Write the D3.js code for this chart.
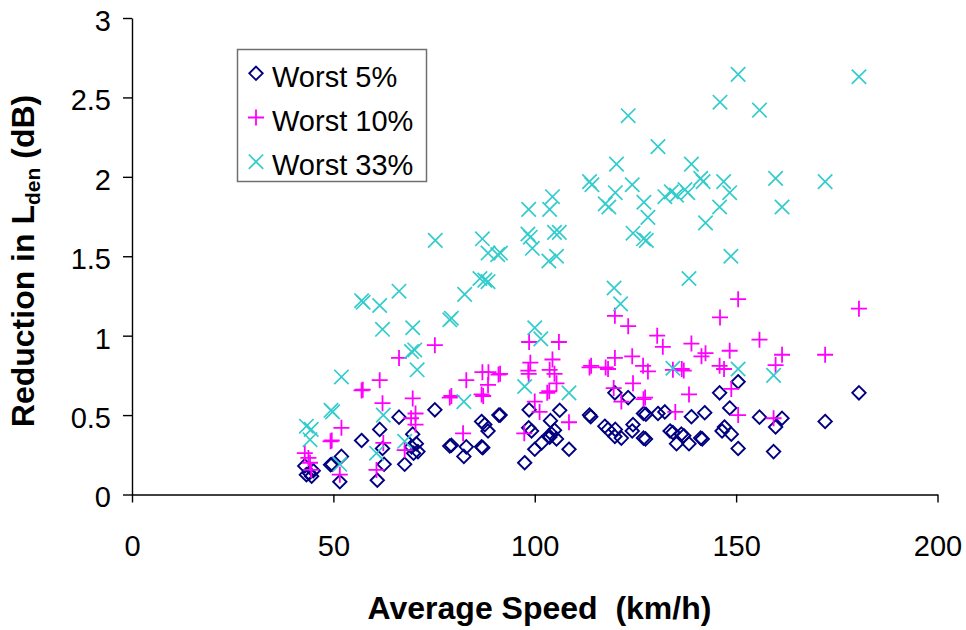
<!DOCTYPE html>
<html>
<head>
<meta charset="utf-8">
<script src="https://cdn.jsdelivr.net/npm/d3@7"></script>
<style>
  html, body { margin: 0; padding: 0; background: #fff; }
  svg { display: block; font-family: "Liberation Sans", Arial, sans-serif; }
</style>
</head>
<body>
<svg id="chart" width="966" height="630"></svg>
<script>
// Reduction in Lden against average speed, three worst-percentile groups.
// Each point is [average speed (km/h), reduction (dB)].
const worst5 = [
  [42.9,0.18],[43.3,0.125],[44.6,0.115],[44.0,0.135],[45.0,0.15],
  [49.3,0.187],[49.7,0.19],[51.6,0.08],[52.0,0.24],[57.0,0.34],
  [60.9,0.09],[61.5,0.41],[62.2,0.29],[62.6,0.19],[66.3,0.487],
  [67.7,0.19],[69.7,0.38],[69.4,0.30],[70.6,0.32],[71.0,0.27],[69.9,0.26],
  [75.2,0.533],[78.9,0.305],[79.3,0.31],[83.0,0.30],[82.4,0.24],
  [86.8,0.46],[87.6,0.44],[88.4,0.40],[86.8,0.30],[87.1,0.295],
  [91.1,0.50],[91.4,0.50],[97.5,0.20],[98.6,0.533],[98.5,0.42],[99.2,0.40],
  [100.0,0.285],[101.7,0.325],[103.9,0.465],[104.9,0.405],
  [103.5,0.37],[104.2,0.38],[103.7,0.36],[105.4,0.35],[106.2,0.53],[108.5,0.285],
  [113.6,0.50],[113.9,0.49],[117.4,0.43],[118.2,0.41],[120.0,0.41],
  [119.9,0.365],[121.5,0.355],[119.9,0.64],[123.2,0.61],[124.4,0.44],[124.2,0.40],
  [127.0,0.51],[127.6,0.505],[127.0,0.355],[127.5,0.35],[130.6,0.51],[132.3,0.52],
  [133.6,0.40],[134.3,0.39],[136.4,0.38],[137.0,0.37],[135.2,0.32],[138.3,0.32],
  [141.2,0.355],[141.6,0.35],[138.9,0.49],[142.2,0.515],[145.9,0.64],[150.5,0.71],
  [148.4,0.545],[146.5,0.40],[147.1,0.425],[148.8,0.38],[150.5,0.29],
  [155.8,0.487],[161.4,0.48],[159.8,0.425],[159.3,0.27],[172.1,0.46],[180.5,0.64]
];

const worst10 = [
  [42.9,0.26],[43.8,0.23],[44.2,0.20],[44.5,0.155],
  [49.3,0.335],[49.6,0.34],[51.6,0.125],[52.0,0.42],[57.0,0.655],[57.3,0.66],
  [60.7,0.155],[61.5,0.72],[62.2,0.575],[62.4,0.325],[66.3,0.86],[67.7,0.28],
  [69.3,0.48],[70.4,0.51],[70.4,0.44],[69.7,0.605],[75.2,0.94],
  [78.9,0.61],[79.3,0.62],[83.0,0.72],[82.2,0.385],[86.8,0.63],[87.2,0.62],
  [87.0,0.77],[88.5,0.77],[88.4,0.69],[91.0,0.755],[91.4,0.76],
  [97.4,0.385],[98.6,0.96],[98.4,0.78],[98.9,0.83],[98.5,0.76],
  [100.0,0.585],[101.2,0.52],[103.1,0.64],[103.6,0.65],[103.7,0.785],
  [104.4,0.85],[104.9,0.76],[105.4,0.70],[106.0,0.96],[108.5,0.455],
  [113.6,0.80],[114.0,0.81],[117.6,0.80],[118.2,0.79],[119.6,0.67],
  [119.9,0.86],[119.9,1.125],[121.5,0.585],[123.2,1.06],[124.2,0.87],[124.4,0.70],
  [126.9,0.81],[127.0,0.60],[127.4,0.61],[128.1,0.775],[130.4,1.0],[131.8,0.93],
  [134.3,0.785],[134.9,0.52],[136.5,0.79],[137.0,0.78],[138.3,0.63],[138.9,0.95],
  [141.4,0.87],[142.4,0.89],[145.9,0.81],[147.0,0.79],[146.0,1.115],
  [148.4,0.905],[148.8,0.665],[150.5,0.50],[150.5,1.23],[155.8,0.975],
  [159.8,0.815],[159.3,0.48],[161.4,0.88],[172.1,0.88],[180.5,1.17]
];

const worst33 = [
  [43.3,0.43],[44.5,0.41],[44.2,0.345],[49.4,0.53],[49.8,0.52],[52.0,0.74],
  [57.0,1.22],[57.4,1.21],[61.5,1.19],[62.2,1.04],[66.3,1.28],
  [69.7,1.05],[69.4,0.90],[70.2,0.91],[70.8,0.785],[62.4,0.50],[67.7,0.335],
  [60.7,0.26],[51.6,0.19],[75.3,1.60],[78.9,1.10],[79.3,1.11],[82.6,1.26],
  [82.4,0.585],[86.4,1.36],[87.6,1.35],[88.4,1.34],[87.0,1.61],[88.4,1.52],
  [90.8,1.51],[91.5,1.52],[97.5,0.68],[98.5,1.795],[98.3,1.64],[98.9,1.62],
  [99.4,1.55],[100.0,1.05],[101.5,0.98],[103.5,1.47],[105.4,1.50],
  [103.7,1.795],[104.4,1.875],[104.9,1.65],[106.1,1.65],[108.5,0.64],
  [113.6,1.97],[114.2,1.95],[117.5,1.83],[118.4,1.81],[120.0,1.90],[120.3,2.08],
  [123.2,2.385],[124.2,1.95],[124.4,1.645],[127.1,1.84],[128.1,1.745],
  [127.0,1.61],[127.7,1.60],[119.7,1.30],[121.3,1.20],[130.6,2.19],
  [132.3,1.875],[133.9,1.905],[135.2,1.885],[137.3,1.92],[138.0,1.90],
  [138.9,2.08],[141.2,1.99],[141.8,1.97],[142.4,1.71],[145.9,1.81],[146.0,2.47],
  [146.9,1.97],[148.4,1.90],[148.7,1.50],[150.5,2.645],[155.8,2.42],
  [159.8,1.99],[161.4,1.81],[172.1,1.97],[180.5,2.63],[138.3,1.36],
  [134.3,0.795],[150.5,0.79],[159.3,0.75]
];

const seriesNames = ["Worst 5%", "Worst 10%", "Worst 33%"];
const xTicks = [0, 50, 100, 150, 200];
const yTicks = [0, 0.5, 1, 1.5, 2, 2.5, 3];

const svg = d3.select("#chart");

const x = d3.scaleLinear().domain([0, 200]).range([132, 937.5]);
const y = d3.scaleLinear().domain([0, 3]).range([494.5, 18]);

// Marker shapes: open diamond, plus and cross
const shapes = {
  diamond: "M0,-6.7L6.7,0L0,6.7L-6.7,0Z",
  plus: "M-8,0H8M0,-8V8",
  cross: "M-7.2,-7.2L7.2,7.2M-7.2,7.2L7.2,-7.2"
};

const series = [
  { name: seriesNames[0], data: worst5,  shape: shapes.diamond, color: "#000080", width: 1.9 },
  { name: seriesNames[1], data: worst10, shape: shapes.plus,    color: "#ff00ff", width: 1.8 },
  { name: seriesNames[2], data: worst33, shape: shapes.cross,   color: "#33cccc", width: 1.7 }
];

// Axes
const fmt = d => String(d);
const yAxis = svg.append("g")
  .attr("transform", `translate(${x(0)},0)`)
  .call(d3.axisLeft(y).tickValues(yTicks).tickSize(9).tickSizeOuter(0).tickPadding(12).tickFormat(fmt));
const xAxis = svg.append("g")
  .attr("transform", `translate(0,${y(0)})`)
  .call(d3.axisBottom(x).tickValues(xTicks).tickSize(8).tickSizeOuter(0).tickPadding(33).tickFormat(fmt));

[yAxis, xAxis].forEach(g => {
  g.select(".domain").attr("stroke", "#000").attr("stroke-width", 1.4);
  g.selectAll(".tick line").attr("stroke", "#000").attr("stroke-width", 1.4);
  g.selectAll(".tick text")
    .attr("fill", "#000")
    .style("font-family", "'Liberation Sans', Arial, sans-serif")
    .style("font-size", "29px");
});
yAxis.selectAll(".tick text").attr("dy", "0.43em");

// Points
series.forEach(s => {
  svg.append("g")
    .selectAll("path")
    .data(s.data)
    .join("path")
    .attr("transform", d => `translate(${x(d[0])},${y(d[1])})`)
    .attr("d", s.shape)
    .attr("fill", "none")
    .attr("stroke", s.color)
    .attr("stroke-width", s.width);
});

// Axis titles
const yTitle = svg.append("text")
  .attr("transform", "translate(34,261) rotate(-90)")
  .attr("text-anchor", "middle")
  .style("font-size", "32px")
  .style("font-weight", "bold");
yTitle.append("tspan").text("Reduction in L");
yTitle.append("tspan").attr("dy", 6).style("font-size", "21px").text("den");
yTitle.append("tspan").attr("dy", -6).text(" (dB)");

svg.append("text")
  .attr("x", 539.5)
  .attr("y", 619)
  .attr("text-anchor", "middle")
  .style("font-size", "32px")
  .style("font-weight", "bold")
  .style("white-space", "pre")
  .attr("xml:space", "preserve")
  .text("Average Speed  (km/h)");

// Legend
const legend = svg.append("g");
legend.append("rect")
  .attr("x", 237.5).attr("y", 49.5)
  .attr("width", 189).attr("height", 132)
  .attr("fill", "#fff")
  .attr("stroke", "#707070")
  .attr("stroke-width", 1.5);

const rowY = d3.scalePoint().domain(seriesNames).range([73.3, 161.7]);
series.forEach(s => {
  const row = legend.append("g").attr("transform", `translate(0,${rowY(s.name)})`);
  row.append("path")
    .attr("transform", "translate(256,0)")
    .attr("d", s.shape)
    .attr("fill", "none")
    .attr("stroke", s.color)
    .attr("stroke-width", s.width);
  row.append("text")
    .attr("x", 272)
    .attr("y", 13.4)
    .style("font-size", "29px")
    .attr("fill", "#000")
    .text(s.name);
});
</script>
</body>
</html>
